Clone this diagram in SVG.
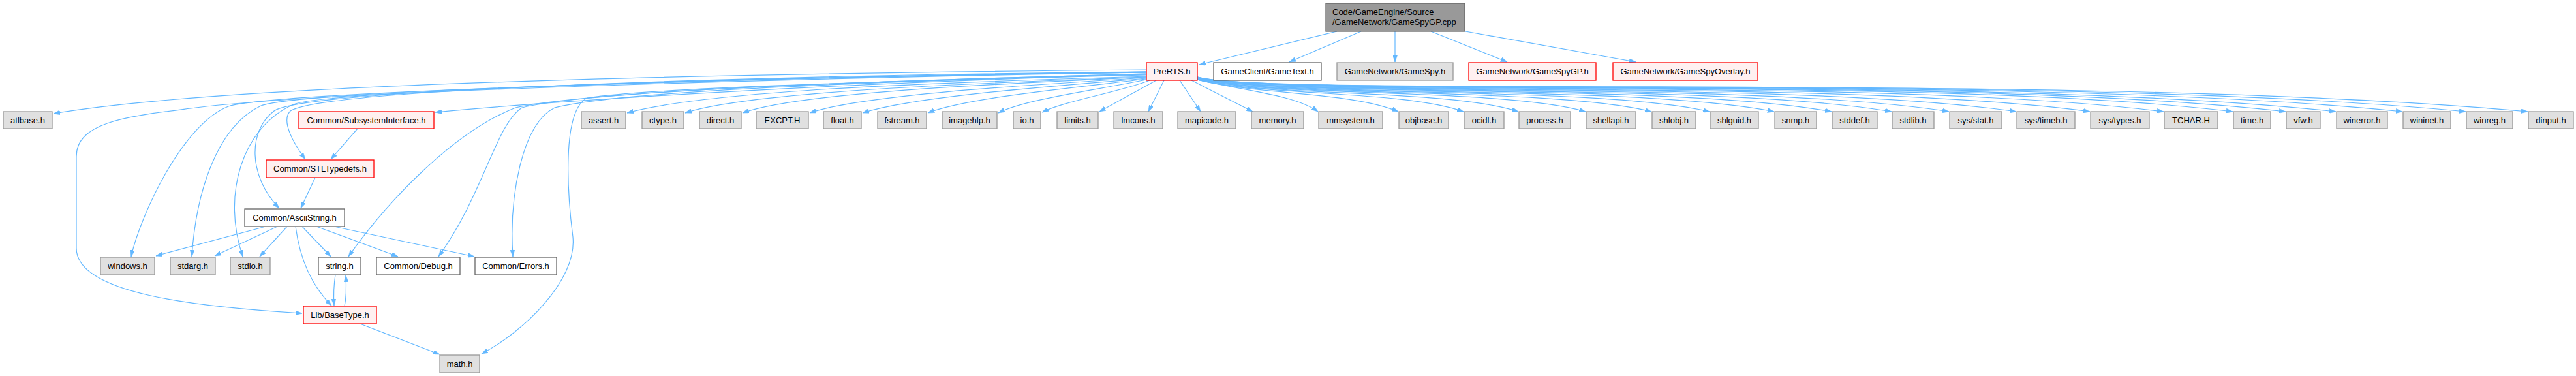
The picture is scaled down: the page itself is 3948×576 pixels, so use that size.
<svg xmlns="http://www.w3.org/2000/svg" width="3948" height="576" viewBox="0 0 3948 576">
<style>
rect{stroke-width:1.3}
.g{fill:#e0e0e0;stroke:#999999}
.w{fill:#ffffff;stroke:#666666}
.r{fill:#fff0f0;stroke:#ff0000}
.t{fill:#999999;stroke:#666666}
text{font-family:"Liberation Sans",Arial,Helvetica,sans-serif;font-size:13px;fill:#000000;text-anchor:middle}
text.l{text-anchor:start}
#edges path{fill:none;stroke:#63b8ff;stroke-width:1.2;marker-end:url(#a)}
</style>
<defs>
<marker id="a" viewBox="0 0 10 7" refX="10" refY="3.5" markerWidth="10" markerHeight="7" orient="auto" markerUnits="userSpaceOnUse"><path d="M0,0 L10,3.5 L0,7 z" fill="#63b8ff" stroke="#63b8ff" stroke-width="0.5"/></marker>
</defs>
<rect width="3948" height="576" fill="#ffffff"/>
<g id="edges">
<path d="M2049,48 L1838,99"/>
<path d="M2086,48 L1976,95"/>
<path d="M2138,48 L2138,95"/>
<path d="M2193,48 L2310,95"/>
<path d="M2246,48 L2507,95"/>
<path d="M1757,107 C1400,110 400,120 82,174"/>
<path d="M1757,115 C1400,122 900,150 667,172"/>
<path d="M1757,110 C1200,115 500,135 445,170 C430,185 450,220 468,244"/>
<path d="M1757,111 C1200,117 470,135 420,170 C380,200 380,270 428,319"/>
<path d="M1757,110 C1200,118 420,140 350,163 C280,190 215,330 201,393"/>
<path d="M1757,110 C1200,118 460,138 400,162 C330,195 300,300 294,393"/>
<path d="M1757,111 C1200,118 500,138 450,160 C370,195 340,300 372,393"/>
<path d="M1757,111 C1200,120 500,140 300,165 C200,178 117,185 117,240 L117,380 C117,450 300,470 463,480"/>
<path d="M1757,113 C1300,125 900,140 790,165 C700,200 600,300 534,393"/>
<path d="M1757,113 C1300,125 900,140 800,165 C760,190 740,300 672,393"/>
<path d="M1757,114 C1300,126 950,140 850,165 C800,190 780,300 786,393"/>
<path d="M1757,114 C1300,126 1000,135 900,150 C860,170 870,300 878,363 C885,430 800,510 738,542"/>
<path d="M1757,117 C1500,125 1100,135 961,173"/>
<path d="M1757,118 C1500,127 1150,140 1050,173"/>
<path d="M1757,118 C1550,128 1230,140 1138,173"/>
<path d="M1757,119 C1580,130 1320,145 1241,173"/>
<path d="M1757,120 C1600,133 1400,148 1322,173"/>
<path d="M1757,121 C1640,135 1480,150 1422,173"/>
<path d="M1757,122 C1680,138 1570,152 1530,173"/>
<path d="M1762,123 C1720,140 1630,155 1597,172"/>
<path d="M1772,123 L1685,171"/>
<path d="M1784,123 L1760,171"/>
<path d="M1808,123 L1840,171"/>
<path d="M1826,123 L1920,171"/>
<path d="M1835,122 C1900,138 1985,145 2020,171"/>
<path d="M1835,122 C1920,145 2070,140 2143,171"/>
<path d="M1835,122 C1930,147 2150,138 2243,171"/>
<path d="M1835,122 C1935,148 2220,136 2327,171"/>
<path d="M1835,121 C1940,149 2300,134 2430,171"/>
<path d="M1835,121 C1945,150 2370,132 2531,171"/>
<path d="M1835,121 C1950,150 2440,130 2620,171"/>
<path d="M1835,121 C1950,150 2500,128 2719,171"/>
<path d="M1835,120 C1950,150 2560,126 2807,171"/>
<path d="M1835,120 C1950,150 2620,124 2899,171"/>
<path d="M1835,120 C1950,150 2680,122 2987,171"/>
<path d="M1835,120 C1950,150 2740,120 3090,171"/>
<path d="M1835,120 C1950,150 2810,118 3203,171"/>
<path d="M1835,119 C1950,150 2880,116 3316,171"/>
<path d="M1835,119 C1950,150 2950,114 3422,171"/>
<path d="M1835,119 C1950,150 3000,113 3503,171"/>
<path d="M1835,119 C1950,150 3040,112 3580,171"/>
<path d="M1835,118 C1950,150 3100,111 3682,171"/>
<path d="M1835,118 C1950,150 3150,110 3779,171"/>
<path d="M1835,118 C1950,150 3200,109 3874,171"/>
<path d="M548,197 L507,244"/>
<path d="M483,272 L461,319"/>
<path d="M407,347 L239,392"/>
<path d="M425,347 L329,392"/>
<path d="M440,347 L398,393"/>
<path d="M463,347 L507,393"/>
<path d="M453,347 C460,400 480,440 508,468"/>
<path d="M485,347 L610,393"/>
<path d="M512,347 L727,393"/>
<path d="M514,421 C511,440 511,452 512,468"/>
<path d="M528,469 C531,455 531,440 530,422"/>
<path d="M552,496 L674,543"/>
</g>
<g id="n_top"><rect class="t" x="2032" y="5" width="213" height="43"/><text class="l" x="2042" y="23">Code/GameEngine/Source</text><text class="l" x="2042" y="38">/GameNetwork/GameSpyGP.cpp</text></g>
<g id="n_prerts"><rect class="r" x="1757" y="96" width="78" height="27"/><text x="1796" y="114">PreRTS.h</text></g>
<g id="n_gametext"><rect class="w" x="1860" y="96" width="165" height="27"/><text x="1942.5" y="114">GameClient/GameText.h</text></g>
<g id="n_gamespy"><rect class="g" x="2049" y="96" width="178" height="27"/><text x="2138" y="114">GameNetwork/GameSpy.h</text></g>
<g id="n_gamespygp"><rect class="r" x="2251" y="96" width="195" height="27"/><text x="2348.5" y="114">GameNetwork/GameSpyGP.h</text></g>
<g id="n_gamespyoverlay"><rect class="r" x="2472" y="96" width="222" height="27"/><text x="2583" y="114">GameNetwork/GameSpyOverlay.h</text></g>
<g id="n_atlbase"><rect class="g" x="5" y="171" width="75" height="26"/><text x="42.5" y="188.5">atlbase.h</text></g>
<g id="n_subsys"><rect class="r" x="458" y="171" width="207" height="26"/><text x="561.5" y="188.5">Common/SubsystemInterface.h</text></g>
<g id="n_assert"><rect class="g" x="891" y="171" width="68" height="26"/><text x="925" y="188.5">assert.h</text></g>
<g id="n_ctype"><rect class="g" x="984" y="171" width="64" height="26"/><text x="1016" y="188.5">ctype.h</text></g>
<g id="n_direct"><rect class="g" x="1072" y="171" width="64" height="26"/><text x="1104" y="188.5">direct.h</text></g>
<g id="n_excpt"><rect class="g" x="1159" y="171" width="80" height="26"/><text x="1199" y="188.5">EXCPT.H</text></g>
<g id="n_float"><rect class="g" x="1262" y="171" width="58" height="26"/><text x="1291" y="188.5">float.h</text></g>
<g id="n_fstream"><rect class="g" x="1345" y="171" width="75" height="26"/><text x="1382.5" y="188.5">fstream.h</text></g>
<g id="n_imagehlp"><rect class="g" x="1444" y="171" width="84" height="26"/><text x="1486" y="188.5">imagehlp.h</text></g>
<g id="n_io"><rect class="g" x="1553" y="171" width="42" height="26"/><text x="1574" y="188.5">io.h</text></g>
<g id="n_limits"><rect class="g" x="1620" y="171" width="63" height="26"/><text x="1651.5" y="188.5">limits.h</text></g>
<g id="n_lmcons"><rect class="g" x="1707" y="171" width="75" height="26"/><text x="1744.5" y="188.5">lmcons.h</text></g>
<g id="n_mapicode"><rect class="g" x="1805" y="171" width="89" height="26"/><text x="1849.5" y="188.5">mapicode.h</text></g>
<g id="n_memory"><rect class="g" x="1918" y="171" width="80" height="26"/><text x="1958" y="188.5">memory.h</text></g>
<g id="n_mmsystem"><rect class="g" x="2021" y="171" width="98" height="26"/><text x="2070" y="188.5">mmsystem.h</text></g>
<g id="n_objbase"><rect class="g" x="2144" y="171" width="76" height="26"/><text x="2182" y="188.5">objbase.h</text></g>
<g id="n_ocidl"><rect class="g" x="2244" y="171" width="61" height="26"/><text x="2274.5" y="188.5">ocidl.h</text></g>
<g id="n_process"><rect class="g" x="2328" y="171" width="79" height="26"/><text x="2367.5" y="188.5">process.h</text></g>
<g id="n_shellapi"><rect class="g" x="2431" y="171" width="76" height="26"/><text x="2469" y="188.5">shellapi.h</text></g>
<g id="n_shlobj"><rect class="g" x="2532" y="171" width="67" height="26"/><text x="2565.5" y="188.5">shlobj.h</text></g>
<g id="n_shlguid"><rect class="g" x="2621" y="171" width="74" height="26"/><text x="2658" y="188.5">shlguid.h</text></g>
<g id="n_snmp"><rect class="g" x="2720" y="171" width="64" height="26"/><text x="2752" y="188.5">snmp.h</text></g>
<g id="n_stddef"><rect class="g" x="2808" y="171" width="69" height="26"/><text x="2842.5" y="188.5">stddef.h</text></g>
<g id="n_stdlib"><rect class="g" x="2900" y="171" width="64" height="26"/><text x="2932" y="188.5">stdlib.h</text></g>
<g id="n_sysstat"><rect class="g" x="2988" y="171" width="80" height="26"/><text x="3028" y="188.5">sys/stat.h</text></g>
<g id="n_systimeb"><rect class="g" x="3091" y="171" width="89" height="26"/><text x="3135.5" y="188.5">sys/timeb.h</text></g>
<g id="n_systypes"><rect class="g" x="3204" y="171" width="90" height="26"/><text x="3249" y="188.5">sys/types.h</text></g>
<g id="n_tchar"><rect class="g" x="3317" y="171" width="82" height="26"/><text x="3358" y="188.5">TCHAR.H</text></g>
<g id="n_time"><rect class="g" x="3423" y="171" width="57" height="26"/><text x="3451.5" y="188.5">time.h</text></g>
<g id="n_vfw"><rect class="g" x="3504" y="171" width="52" height="26"/><text x="3530" y="188.5">vfw.h</text></g>
<g id="n_winerror"><rect class="g" x="3581" y="171" width="78" height="26"/><text x="3620" y="188.5">winerror.h</text></g>
<g id="n_wininet"><rect class="g" x="3683" y="171" width="73" height="26"/><text x="3719.5" y="188.5">wininet.h</text></g>
<g id="n_winreg"><rect class="g" x="3780" y="171" width="71" height="26"/><text x="3815.5" y="188.5">winreg.h</text></g>
<g id="n_dinput"><rect class="g" x="3875" y="171" width="69" height="26"/><text x="3909.5" y="188.5">dinput.h</text></g>
<g id="n_stltypedefs"><rect class="r" x="408" y="245" width="165" height="27"/><text x="490.5" y="263">Common/STLTypedefs.h</text></g>
<g id="n_asciistring"><rect class="w" x="375" y="320" width="153" height="27"/><text x="451.5" y="338">Common/AsciiString.h</text></g>
<g id="n_windows"><rect class="g" x="154" y="394" width="83" height="27"/><text x="195.5" y="412">windows.h</text></g>
<g id="n_stdarg"><rect class="g" x="261" y="394" width="69" height="27"/><text x="295.5" y="412">stdarg.h</text></g>
<g id="n_stdio"><rect class="g" x="353" y="394" width="61" height="27"/><text x="383.5" y="412">stdio.h</text></g>
<g id="n_string"><rect class="w" x="488" y="394" width="65" height="27"/><text x="520.5" y="412">string.h</text></g>
<g id="n_debug"><rect class="w" x="577" y="394" width="128" height="27"/><text x="641" y="412">Common/Debug.h</text></g>
<g id="n_errors"><rect class="w" x="728" y="394" width="125" height="27"/><text x="790.5" y="412">Common/Errors.h</text></g>
<g id="n_basetype"><rect class="r" x="465" y="469" width="112" height="27"/><text x="521" y="487">Lib/BaseType.h</text></g>
<g id="n_math"><rect class="g" x="674" y="544" width="61" height="27"/><text x="704.5" y="562">math.h</text></g>
</svg>
